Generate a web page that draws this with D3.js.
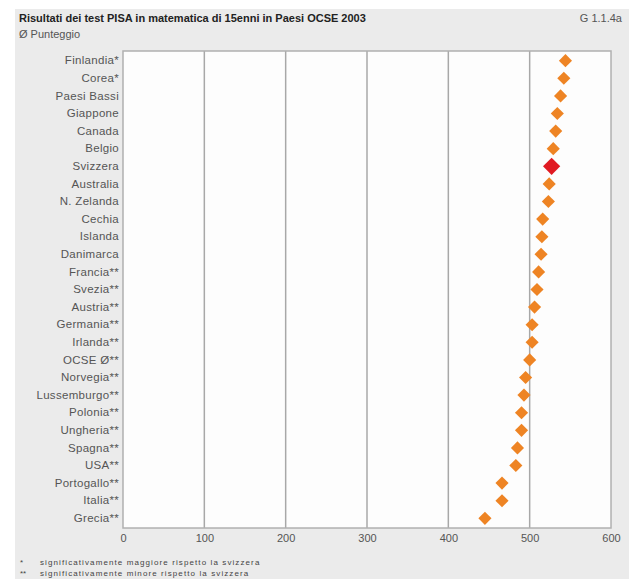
<!DOCTYPE html>
<html>
<head>
<meta charset="utf-8">
<script src="https://cdn.jsdelivr.net/npm/d3@7"></script>
<style>
  body { margin: 0; background: #fff; }
  text { font-family: "Liberation Sans", Arial, sans-serif; }
</style>
</head>
<body>
<script>
const countries = ["Finlandia*", "Corea*", "Paesi Bassi", "Giappone", "Canada", "Belgio", "Svizzera",
    "Australia", "N. Zelanda", "Cechia", "Islanda", "Danimarca", "Francia**", "Svezia**", "Austria**",
    "Germania**", "Irlanda**", "OCSE Ø**", "Norvegia**", "Lussemburgo**", "Polonia**", "Ungheria**",
    "Spagna**", "USA**", "Portogallo**", "Italia**", "Grecia**"]
const scores = [544, 542, 538, 534, 532, 529, 527, 524, 523, 516, 515, 514, 511, 509, 506,
    503, 503, 500, 495, 493, 490, 490, 485, 483, 466, 466, 445]
const xTicks = [0, 100, 200, 300, 400, 500, 600]
const highlight = "Svizzera"

let w = 640;
let h = 579;

let svg = d3.select("body")
    .append("svg")
    .attr("width", w)
    .attr("height", h)

// gray panel
svg.append("rect")
    .attr("x", 15).attr("y", 9)
    .attr("width", 614).attr("height", h)
    .attr("fill", "#ebebeb")

let x = d3.scaleLinear().domain([0, 600]).range([123, 611])
let y = d3.scaleBand().domain(countries).range([51, 528]).padding(0.1)

// plot background
svg.append("rect")
    .attr("x", x(0)).attr("y", 51)
    .attr("width", x(600) - x(0)).attr("height", 528 - 51)
    .attr("fill", "#fdfdfd")

// grid
svg.append("g")
    .selectAll("line")
    .data(xTicks.slice(1, -1))
    .enter().append("line")
    .attr("x1", d => x(d)).attr("x2", d => x(d))
    .attr("y1", 51).attr("y2", 528)
    .attr("stroke", "#a8a8a8")
    .attr("stroke-width", 1.5)

svg.append("rect")
    .attr("x", x(0)).attr("y", 51)
    .attr("width", x(600) - x(0)).attr("height", 528 - 51)
    .attr("fill", "none")
    .attr("stroke", "#b0b0b0")
    .attr("stroke-width", 1.5)

// x axis labels
let xAxis = svg.append("g")
    .attr("transform", "translate(0,528)")
    .call(d3.axisBottom(x).tickValues(xTicks).tickSize(0).tickPadding(6))
xAxis.select(".domain").remove()
xAxis.selectAll("text")
    .attr("fill", "#555")
    .style("font-size", "11px")
    .style("font-family", "Liberation Sans, Arial, sans-serif")

// y axis labels
let yAxis = svg.append("g")
    .attr("transform", "translate(" + x(0) + ",0)")
    .call(d3.axisLeft(y).tickSize(0).tickPadding(4))
yAxis.select(".domain").remove()
yAxis.selectAll("text")
    .attr("fill", "#555")
    .style("font-size", "11.5px")
    .style("letter-spacing", "0.3px")
    .style("font-family", "Liberation Sans, Arial, sans-serif")

// diamonds
let sym = d3.symbol().type(d3.symbolDiamond2)
svg.append("g")
    .selectAll("path")
    .data(countries)
    .enter().append("path")
    .attr("transform", (d, i) => "translate(" + x(scores[i]) + "," + (y(d) + y.bandwidth() / 2) + ")")
    .attr("d", d => sym.size(d === highlight ? 190 : 110)())
    .attr("fill", d => d === highlight ? "#e01a22" : "#ee8424")

// titles
svg.append("text")
    .attr("x", 19).attr("y", 22)
    .attr("fill", "#222")
    .style("font-size", "11px")
    .style("font-weight", "bold")
    .text("Risultati dei test PISA in matematica di 15enni in Paesi OCSE 2003")

svg.append("text")
    .attr("x", 622).attr("y", 22)
    .attr("text-anchor", "end")
    .attr("fill", "#555")
    .style("font-size", "11px")
    .text("G 1.1.4a")

svg.append("text")
    .attr("x", 19).attr("y", 38)
    .attr("fill", "#555")
    .style("font-size", "11px")
    .text("Ø Punteggio")

// footnotes
const notes = [["*", "significativamente maggiore rispetto la svizzera", 565],
    ["**", "significativamente minore rispetto la svizzera", 576]]
notes.forEach(n => {
    svg.append("text")
        .attr("x", 20).attr("y", n[2])
        .attr("fill", "#444")
        .style("font-size", "8px")
        .text(n[0])
    svg.append("text")
        .attr("x", 40).attr("y", n[2])
        .attr("fill", "#444")
        .style("font-size", "8px")
        .style("letter-spacing", "1.1px")
        .text(n[1])
})
</script>
</body>
</html>
